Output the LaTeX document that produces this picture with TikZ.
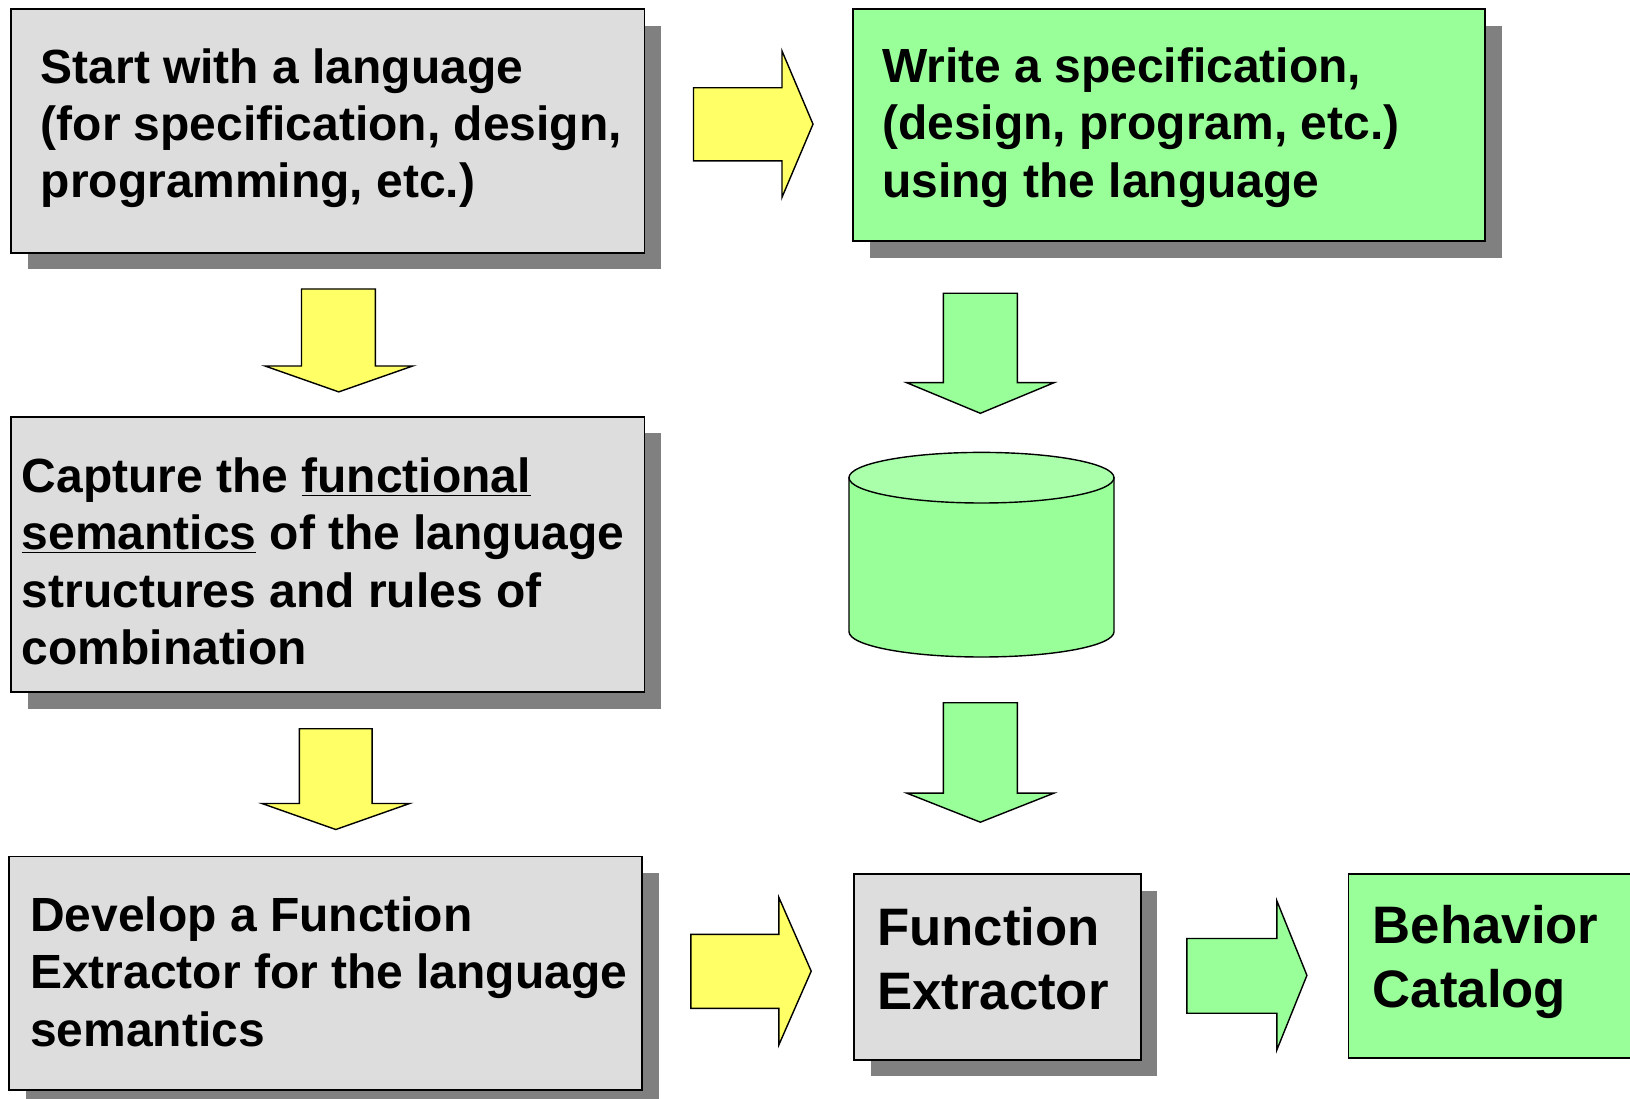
\documentclass[tikz,border=0pt]{standalone}
\usepackage{fontspec}
\setmainfont{Liberation Sans}
\usepackage{tikz}
\usetikzlibrary{shadows, calc}
\definecolor{boxgray}{HTML}{DDDDDD}
\definecolor{boxgreen}{HTML}{99FF99}
\definecolor{topgreen}{HTML}{AAFFAA}
\definecolor{arrowyellow}{HTML}{FFFF66}
\definecolor{shadowgray}{HTML}{808080}
\newcommand{\thickul}[1]{\underline{#1}}

\begin{document}
\begin{tikzpicture}[scale=1,
    box/.style={draw=black, line width=1.1pt, inner sep=0pt, anchor=north west},
    shadowed/.style={drop shadow={shadow xshift=0.33cm, shadow yshift=-0.33cm, fill=shadowgray, opacity=1}},
    graybox/.style={box, shadowed, fill=boxgray},
    greenbox/.style={box, shadowed, fill=boxgreen},
    txt/.style={anchor=west, align=left, inner sep=0pt, font=\bfseries\fontsize{27.3}{32.7}\selectfont},
    bigtxt/.style={txt, font=\bfseries\fontsize{30}{36.4}\selectfont},
    yarrow/.style={draw=black, line width=0.8pt, fill=arrowyellow},
    garrow/.style={yarrow, fill=boxgreen}]
                        \clip (0,0) rectangle (32.6,-21.98);
                        \fill[white] (0,0) rectangle (32.6,-21.98);
                        % left column
                        \node[graybox, minimum width=12.662cm, minimum height=4.866cm] (S) at (0.208,-0.166) {};
                        \node[txt] (St) at ($(S.west)+(0.6,0.054)$) {Start with a language\\(for specification, design,\\programming, etc.)};
                        \node[graybox, minimum width=12.662cm, minimum height=5.51cm] (C) at (0.208,-8.316) {};
                        \node[txt] (Ct) at ($(C.west)+(0.22,-0.134)$) {Capture the \thickul{functional}\\\thickul{semantics} of the language\\structures and rules of\\combination};
                        \node[graybox, minimum width=12.662cm, minimum height=4.678cm] (D) at (0.166,-17.11) {};
                        \node[txt] (Dt) at ($(D.west)+(0.43,0.035)$) {Develop a Function\\Extractor for the language\\semantics};
                        % right column
                        \node[greenbox, minimum width=12.64cm, minimum height=4.636cm] (W) at (17.048,-0.166) {};
                        \node[txt] (Wt) at ($(W.west)+(0.59,-0.044)$) {Write a specification,\\(design, program, etc.)\\using the language};
                        \node[graybox, minimum width=5.724cm, minimum height=3.712cm] (FX) at (17.068,-17.468) {};
                        \node[bigtxt] (FXt) at ($(FX.west)+(0.47,0.18)$) {Function\\Extractor};
                        \node[box, fill=boxgreen, minimum width=6cm, minimum height=3.68cm] (BC) at (26.95,-17.468) {};
                        \node[bigtxt] (BCt) at ($(BC.west)+(0.5,0.08)$) {Behavior\\Catalog};
                        % repository
                        \draw[line width=0.8pt, fill=boxgreen] (16.98,-9.554) -- (16.98,-12.634) arc[start angle=180, end angle=360, x radius=2.65, y radius=0.506] -- (22.28,-9.554) -- cycle;
                        \draw[line width=0.8pt, fill=topgreen] (19.63,-9.554) ellipse [x radius=2.65, y radius=0.506];
                        % block arrows
                        \draw[yarrow] (13.87,-1.756) -- (15.64,-1.756) -- (15.64,-1.02) -- (16.26,-2.483) -- (15.64,-3.946) -- (15.64,-3.218) -- (13.87,-3.218) -- cycle;
                        \draw[yarrow] (13.816,-18.686) -- (15.576,-18.686) -- (15.576,-17.946) -- (16.224,-19.423) -- (15.576,-20.9) -- (15.576,-20.166) -- (13.816,-20.166) -- cycle;
                        \draw[garrow] (23.738,-18.77) -- (25.536,-18.77) -- (25.536,-18.014) -- (26.138,-19.507) -- (25.536,-21.0) -- (25.536,-20.264) -- (23.738,-20.264) -- cycle;
                        \draw[yarrow] (6.03,-5.78) -- (7.506,-5.78) -- (7.506,-7.32) -- (8.254,-7.32) -- (6.775,-7.838) -- (5.3,-7.32) -- (6.03,-7.32) -- cycle;
                        \draw[yarrow] (5.988,-14.574) -- (7.442,-14.574) -- (7.442,-16.07) -- (8.192,-16.07) -- (6.716,-16.59) -- (5.24,-16.07) -- (5.988,-16.07) -- cycle;
                        \draw[garrow] (18.866,-5.866) -- (20.346,-5.866) -- (20.346,-7.654) -- (21.08,-7.654) -- (19.607,-8.266) -- (18.134,-7.654) -- (18.866,-7.654) -- cycle;
                        \draw[garrow] (18.866,-14.054) -- (20.346,-14.054) -- (20.346,-15.862) -- (21.08,-15.862) -- (19.607,-16.444) -- (18.134,-15.862) -- (18.866,-15.862) -- cycle;
                    \end{tikzpicture}
\end{document}
